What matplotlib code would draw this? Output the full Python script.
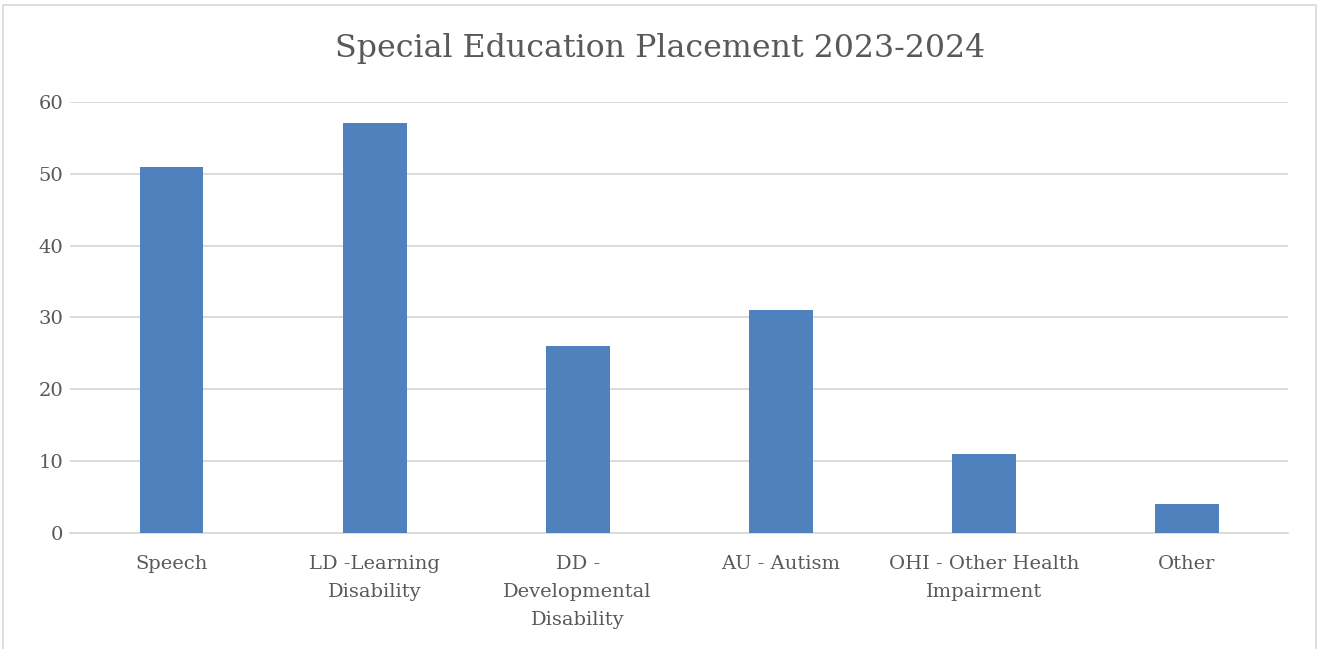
import matplotlib
matplotlib.use("Agg")
import matplotlib.pyplot as plt
from matplotlib.patches import Rectangle

categories = [
    "Speech",
    "LD -Learning\nDisability",
    "DD -\nDevelopmental\nDisability",
    "AU - Autism",
    "OHI - Other Health\nImpairment",
    "Other",
]
counts = [51, 57, 26, 31, 11, 4]
y_ticks = [0, 10, 20, 30, 40, 50, 60]

text_color = "#595959"
bar_color = "#4f81bd"
grid_color = "#d9d9d9"

plt.rcParams["font.family"] = ["DejaVu Serif"]

fig = plt.figure(figsize=(13.2, 6.49), dpi=100)
ax = fig.add_axes([0.053, 0.1787, 0.923, 0.6643])

x = range(len(categories))
ax.bar(x, counts, width=0.315, color=bar_color, zorder=3)

ax.set_xlim(-0.5, len(categories) - 0.5)
ax.set_ylim(0, 60)
ax.set_yticks(y_ticks)
ax.set_xticks(list(x))
ax.set_xticklabels(categories, linespacing=1.72)
ax.tick_params(axis="both", length=0, colors=text_color, labelsize=14)
ax.tick_params(axis="x", pad=16)
ax.tick_params(axis="y", pad=5)
ax.yaxis.grid(True, color=grid_color, linewidth=1.3, zorder=0)
for side in ["top", "right", "left"]:
    ax.spines[side].set_visible(False)
ax.spines["bottom"].set_color(grid_color)
ax.spines["bottom"].set_linewidth(1.3)

fig.text(0.5, 0.926, "Special Education Placement 2023-2024",
         ha="center", va="center", fontsize=22.8, color=text_color)

# chart frame
fig.patches.append(Rectangle((0.002, -0.01), 0.995, 1.002, transform=fig.transFigure,
                             fill=False, edgecolor="#d9d9d9", linewidth=1.2))

fig.savefig("out.png", dpi=100)
